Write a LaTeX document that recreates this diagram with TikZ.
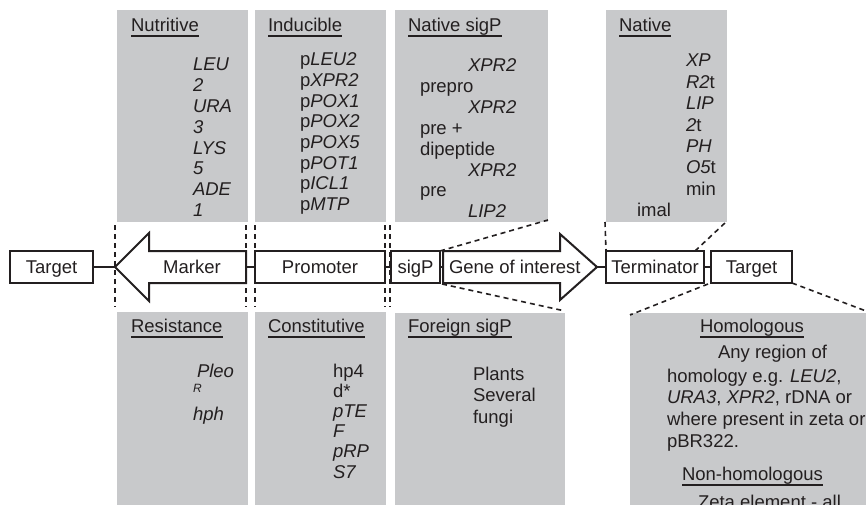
\documentclass[tikz,border=0pt]{standalone}
\usepackage{fontspec}
\setmainfont{Liberation Sans}
\definecolor{panelgray}{RGB}{200,201,203}
\definecolor{ink}{RGB}{35,31,32}
\newcommand\panelhead[3]{%
  \node[hd] (#1) at (#2) {#3};
  \draw[ul] ([yshift=-5pt]#1.base west) -- ([yshift=-5pt]#1.base east);}
\begin{document}
\begin{tikzpicture}[x=1pt,y=-1pt,
  every node/.style={inner sep=0pt, outer sep=0pt, font=\fontsize{18.5}{20.8}\selectfont, text=ink},
  panel/.style={fill=panelgray},
  part/.style={draw=ink, line width=2pt, minimum height=32pt, text height=15pt, text depth=2pt},
  arrowpart/.style={draw=ink, line width=2pt, line join=miter, fill=white},
  link/.style={draw=ink, line width=1.2pt},
  guide/.style={draw=ink, line width=1.6pt, dash pattern=on 5pt off 4pt},
  hd/.style={anchor=base west},
  it/.style={anchor=base west, font=\fontsize{18.5}{20.8}\selectfont\itshape},
  ul/.style={draw=ink, line width=2pt}]
\useasboundingbox (0,0) rectangle (866,505);
\clip (0,0) rectangle (866,505);
\fill[white] (0,0) rectangle (866,505);

% grey panels
\fill[panel] (117,10) rectangle (248,222);
\fill[panel] (255,10) rectangle (386,222);
\fill[panel] (395,10) rectangle (548,222);
\fill[panel] (606,10) rectangle (727,222);
\fill[panel] (117,312) rectangle (248,505);
\fill[panel] (255,312) rectangle (386,505);
\fill[panel] (395,313) rectangle (565,505);
\fill[panel] (630,313) rectangle (866,505);

% top panels
\panelhead{hNut}{131,31.5}{Nutritive}
\foreach \t [count=\i from 0] in {LEU,2,URA,3,LYS,5,ADE,1}
  \node[it] (nut\i) at (193,71+20.8*\i) {\t};

\panelhead{hInd}{268,31.5}{Inducible}
\foreach \t [count=\i from 0] in {LEU2,XPR2,POX1,POX2,POX5,POT1,ICL1,MTP}
  \node[hd] (ind\i) at (300,66+20.6*\i) {p\textit{\t}};

\panelhead{hNsp}{408,31.5}{Native sigP}
\foreach \x/\t [count=\i from 0] in {468/{\textit{XPR2}},420/{prepro},468/{\textit{XPR2}},420/{pre +},420/{dipeptide},468/{\textit{XPR2}},420/{pre},468/{\textit{LIP2}}}
  \node[hd] (nsp\i) at (\x,72+20.8*\i) {\t};

\panelhead{hNat}{619,31.5}{Native}
\foreach \x/\t [count=\i from 0] in {686/{\textit{XP}},686/{\textit{R2}t},686/{\textit{LIP}},686/{\textit{2}t},686/{\textit{PH}},686/{\textit{O5}t},686/{min},637/{imal}}
  \node[hd] (nat\i) at (\x,67+21.4*\i) {\t};

% bottom panels
\panelhead{hRes}{131,332}{Resistance}
\node[it] (res0) at (197,377) {Pleo};
\node[it, font=\fontsize{12}{13}\selectfont\itshape] (res1) at (193,392) {R};
\node[it] (res2) at (193,420) {hph};

\panelhead{hCon}{268,332}{Constitutive}
\foreach \t [count=\i from 0] in {hp4,d*,\textit{pTE},\textit{F},\textit{pRP},\textit{S7}}
  \node[hd] (con\i) at (333,377+20.2*\i) {\t};

\panelhead{hFor}{408,332}{Foreign sigP}
\foreach \t [count=\i from 0] in {Plants,Several,fungi}
  \node[hd] (for\i) at (473,380+21.5*\i) {\t};

\panelhead{hHom}{700,332}{Homologous}
\node[hd] (hom0) at (718,358) {Any region of};
\node[hd] (hom1) at (667,382) {homology e.g. \textit{LEU2},};
\node[hd] (hom2) at (667,403.5) {\textit{URA3}, \textit{XPR2}, rDNA or};
\node[hd] (hom3) at (667,425) {where present in zeta or};
\node[hd] (hom4) at (667,447) {pBR322.};
\panelhead{hNon}{682,480}{Non-homologous}
\node[hd] (non0) at (698,508) {Zeta element - all};

% main construct
\node[part, minimum width=83pt] (t1) at (51.5,267) {Target};
\coordinate (mtip) at (115,267);
\coordinate (mend) at (246,267);
\draw[arrowpart] (mtip) -- (149,233) -- (149,251) -- (246,251) -- (246,283) -- (149,283) -- (149,301) -- cycle;
\node[anchor=base] (mk) at (192,273.5) {Marker};
\node[part, minimum width=130pt] (prom) at (320,267) {Promoter};
\node[part, minimum width=49pt] (sig) at (415.5,267) {sigP};
\coordinate (gstart) at (443,267);
\coordinate (gtip) at (597,267);
\draw[arrowpart] (443,251) -- (560,251) -- (560,234) -- (gtip) -- (560,300) -- (560,283) -- (443,283) -- cycle;
\node[hd] (goi) at (449,273.5) {Gene of interest};
\node[part, minimum width=98pt] (term) at (655,267) {Terminator};
\node[part, minimum width=81pt] (t2) at (751.5,267) {Target};

\draw[link] (t1.east) -- (mtip);
\draw[link] (mend) -- (prom.west);
\draw[link] (prom.east) -- (sig.west);
\draw[link] (sig.east) -- (gstart);
\draw[link] (gtip) -- (term.west);
\draw[link] (term.east) -- (t2.west);

% dashed guides
\foreach \x in {115,246,255,385,390}
  \draw[guide] (\x,225) -- (\x,307);
\draw[guide] (605,222) -- (term.north west);
\draw[guide] (sig.north east) -- (548,220);
\draw[guide] (442,284) -- (565,311);
\draw[guide] (695,251) -- (726,222);
\draw[guide] (708,284) -- (630,315);
\draw[guide] (t2.south east) -- (866,311);
\end{tikzpicture}
\end{document}
